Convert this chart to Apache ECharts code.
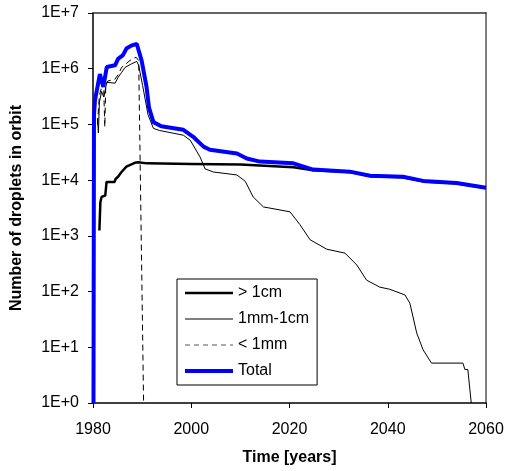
<!DOCTYPE html>
<html>
<head>
<meta charset="utf-8">
<script src="https://cdn.jsdelivr.net/npm/echarts@6/dist/echarts.min.js"></script>
<style>
  html, body { margin: 0; padding: 0; background: #fff; }
  #main { width: 507px; height: 471px; }
</style>
</head>
<body>
<div id="main"></div>
<script>
// data: [year, number of droplets]
var seriesNames = ['> 1cm', '1mm-1cm', '< 1mm', 'Total'];
var xTicks = [1980, 2000, 2020, 2040, 2060];

var over1cm = [
  [1981.3, 1250], [1981.5, 4000], [1981.75, 5000], [1982.5, 5300], [1982.76, 9300],
  [1984.4, 9300], [1984.6, 1.05e4], [1985.1, 1.15e4], [1985.8, 1.4e4], [1986.8, 1.75e4],
  [1988.5, 2.05e4], [1989.2, 2.1e4], [1991, 2.0e4], [2000, 1.95e4], [2010, 1.9e4],
  [2020.8, 1.7e4], [2024.8, 1.5e4], [2032.3, 1.4e4], [2036.4, 1.18e4], [2043.1, 1.13e4],
  [2047.2, 9.5e3], [2054, 8.8e3], [2060, 7.2e3]
];

var mm1cm = [
  [1980.9, 1.3e5], [1981.1, 7e4], [1981.3, 2.5e5], [1981.75, 3.9e5], [1982.2, 3.1e5],
  [1982.5, 3.2e5], [1982.8, 5.7e5], [1984.5, 5.5e5], [1985.1, 7e5], [1985.8, 8.5e5],
  [1986.5, 1.05e6], [1987.8, 1.22e6], [1988.9, 1.35e6], [1989.3, 1.15e6], [1990.1, 5e5],
  [1991.2, 1.5e5], [1992.3, 8.5e4], [1993.5, 7.8e4], [1998.4, 6.4e4], [1999.8, 5.2e4],
  [2001.8, 2.6e4], [2002.8, 1.6e4], [2004.5, 1.4e4], [2009.3, 1.24e4], [2011, 9.5e3],
  [2012.6, 5e3], [2014.7, 3.3e3], [2016, 3.15e3], [2020.1, 2.7e3], [2022.1, 1.6e3],
  [2024.2, 850], [2027.6, 575], [2031.3, 490], [2033.7, 300], [2035.7, 160],
  [2038.4, 120], [2040.4, 110], [2043.5, 87], [2044.5, 62], [2045.9, 18],
  [2047.2, 9], [2048.9, 5.2], [2055.3, 5.2], [2055.7, 4], [2056.3, 4], [2057.0, 1]
];

var under1mm = [
  [1980.9, 1e5], [1981.3, 3.3e5], [1981.7, 4.5e5], [1982.2, 4e5], [1982.4, 9e4],
  [1982.6, 5e5], [1983, 6e5], [1984.5, 6.5e5], [1985.2, 8e5], [1985.8, 1.05e6],
  [1986.6, 1.2e6], [1987.5, 1.4e6], [1988.3, 1.55e6], [1988.8, 1.6e6], [1989.3, 1.4e6],
  [1990.3, 1]
];

var total = [
  [1980.1, 1], [1980.2, 1.5e5], [1980.4, 2.7e5], [1980.8, 2.5e5], [1981.4, 8e5],
  [1981.6, 8.2e5], [1982.1, 4.7e5], [1982.8, 1.07e6], [1984.5, 1.15e6], [1985.1, 1.5e6],
  [1986.1, 1.75e6], [1986.8, 2.3e6], [1987.8, 2.6e6], [1988.9, 2.8e6], [1989.2, 2.65e6],
  [1989.9, 1.4e6], [1990.9, 4.7e5], [1991.4, 2.0e5], [1992.3, 1.1e5], [1993.9, 9.3e4],
  [1998.4, 8e4], [2000.4, 6e4], [2002.5, 4e4], [2003.8, 3.5e4], [2009.3, 3e4],
  [2011.3, 2.45e4], [2014.0, 2.15e4], [2020.8, 2e4], [2024.8, 1.55e4], [2032.3, 1.42e4],
  [2036.4, 1.2e4], [2043.1, 1.15e4], [2047.2, 9.7e3], [2054, 8.9e3], [2060, 7.3e3]
];

var myChart = echarts.init(document.getElementById('main'));
var font = 'Arial, "Liberation Sans", sans-serif';

var option = {
  animation: false,
  textStyle: { fontFamily: font },
  grid: { left: 93, top: 13, right: 21, bottom: 68, containLabel: false, outerBoundsMode: 'none' },
  legend: {
    orient: 'vertical',
    left: 177,
    top: 279,
    padding: [6, 8, 6, 6],
    itemWidth: 48,
    itemHeight: 14,
    itemGap: 10,
    borderColor: '#000',
    borderWidth: 1,
    borderRadius: 0,
    itemStyle: { opacity: 0 },
    textStyle: { fontSize: 16, color: '#000', fontFamily: font },
    data: [
      { name: seriesNames[0], lineStyle: { color: '#000', width: 2.5 } },
      { name: seriesNames[1], lineStyle: { color: '#000', width: 1 } },
      { name: seriesNames[2], lineStyle: { color: '#555', width: 1, type: [5, 4] } },
      { name: seriesNames[3], lineStyle: { color: '#0000ff', width: 4 } }
    ]
  },
  xAxis: [{
    type: 'value',
    min: xTicks[0],
    max: xTicks[xTicks.length - 1],
    interval: 20,
    name: 'Time [years]',
    nameLocation: 'middle',
    nameGap: 47,
    nameTextStyle: { fontSize: 16, fontWeight: 'bold', color: '#000' },
    axisLine: { lineStyle: { color: '#000', width: 1.5 } },
    axisTick: { inside: false, length: 5, lineStyle: { color: '#000' } },
    axisLabel: {
      fontSize: 16, color: '#000', margin: 19,
      formatter: function (v) { return String(v); }
    },
    splitLine: { show: false }
  }, {
    type: 'value',
    position: 'top',
    min: xTicks[0],
    max: xTicks[xTicks.length - 1],
    axisLine: { show: true, lineStyle: { color: '#333', width: 1.5 } },
    axisTick: { show: false },
    axisLabel: { show: false },
    splitLine: { show: false }
  }],
  yAxis: [{
    type: 'log',
    logBase: 10,
    min: 1,
    max: 1e7,
    name: 'Number of droplets in orbit',
    nameLocation: 'middle',
    nameGap: 68,
    nameTextStyle: { fontSize: 16, fontWeight: 'bold', color: '#000' },
    axisLine: { show: true, lineStyle: { color: '#000', width: 1.5 } },
    axisTick: { show: true, inside: false, length: 5, lineStyle: { color: '#000' } },
    minorTick: { show: false },
    axisLabel: {
      fontSize: 16,
      color: '#000',
      margin: 14,
      formatter: function (v) {
        return '1E+' + Math.round(Math.log10(v));
      }
    },
    splitLine: { show: false }
  }, {
    type: 'log',
    position: 'right',
    min: 1,
    max: 1e7,
    axisLine: { show: true, lineStyle: { color: '#808080', width: 2 } },
    axisTick: { show: false },
    axisLabel: { show: false },
    splitLine: { show: false }
  }],
  series: [
    {
      name: seriesNames[0], type: 'line', data: over1cm, symbol: 'none',
      lineStyle: { color: '#000', width: 2.5 }, itemStyle: { color: '#000' }
    },
    {
      name: seriesNames[1], type: 'line', data: mm1cm, symbol: 'none',
      lineStyle: { color: '#000', width: 1 }, itemStyle: { color: '#000' }
    },
    {
      name: seriesNames[2], type: 'line', data: under1mm, symbol: 'none',
      lineStyle: { color: '#000', width: 1, type: [6, 4] }, itemStyle: { color: '#000' }
    },
    {
      name: seriesNames[3], type: 'line', data: total, symbol: 'none',
      lineStyle: { color: '#0000ff', width: 4 }, itemStyle: { color: '#0000ff' }
    }
  ]
};

myChart.setOption(option);
</script>
</body>
</html>
